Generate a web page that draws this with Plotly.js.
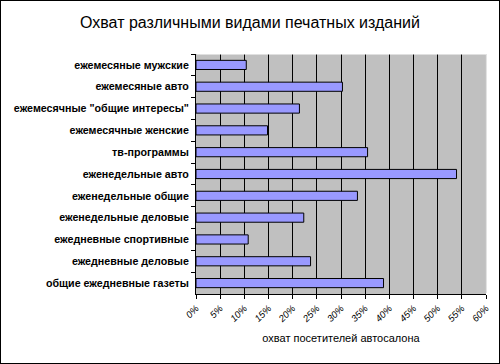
<!DOCTYPE html>
<html><head><meta charset="utf-8">
<script src="https://cdn.plot.ly/plotly-3.0.1.min.js"></script>
<style>
html,body{margin:0;padding:0;background:#fff;}
#wrap{position:relative;width:500px;height:364px;}
#chart{width:500px;height:364px;}
#frame{position:absolute;left:0;top:0;width:500px;height:364px;box-sizing:border-box;border:1px solid #000;pointer-events:none;}
</style>
</head><body>
<div id="wrap"><div id="chart"></div><div id="frame"></div></div>
<script>
const categories = [
  'ежемесяные мужские',
  'ежемесяные авто',
  'ежемесячные "общие интересы"',
  'ежемесячные женские',
  'тв-программы',
  'еженедельные авто',
  'еженедельные общие',
  'еженедельные деловые',
  'ежедневные спортивные',
  'ежедневные деловые',
  'общие ежедневные газеты'
];
const reach = [0.104, 0.303, 0.214, 0.148, 0.355, 0.539, 0.334, 0.223, 0.108, 0.237, 0.388];
const titleText = 'Охват различными видами печатных изданий';
const xTitle = 'охват посетителей автосалона';

const trace = {
  type: 'bar',
  orientation: 'h',
  y: categories,
  x: reach,
  marker: {color: '#9999FF', line: {color: '#000000', width: 1}},
  hoverinfo: 'x+y'
};

const layout = {
  width: 500, height: 364,
  margin: {l: 196, r: 14, t: 54, b: 70},
  paper_bgcolor: '#FFFFFF',
  plot_bgcolor: '#C0C0C0',
  bargap: 0.58,
  showlegend: false,
  font: {family: '"Liberation Sans", Arial, sans-serif', color: '#000'},
  title: {text: titleText, x: 0.5, xref: 'container', xanchor: 'center',
          y: 1 - 22/364, yref: 'container', yanchor: 'middle',
          font: {size: 16, color: '#000'}},
  xaxis: {
    range: [0, 0.6], dtick: 0.05, tick0: 0, tickformat: '.0%',
    tickangle: -45, tickfont: {size: 9.5, style: 'italic'},
    showgrid: true, gridcolor: '#000', gridwidth: 1,
    showline: true, linecolor: '#000', linewidth: 1,
    ticks: 'outside', ticklen: 4, tickcolor: '#000',
    zeroline: false,
    title: {text: xTitle, font: {size: 11}, standoff: 10}
  },
  yaxis: {
    type: 'category', autorange: 'reversed',
    tickson: 'boundaries', ticks: 'outside', ticklen: 4, tickcolor: '#000',
    showline: true, linecolor: '#000', linewidth: 1,
    showgrid: false, zeroline: false,
    ticklabelstandoff: 4,
    tickfont: {size: 10.7, weight: 'bold'}
  },
  shapes: [
    {type: 'line', xref: 'paper', yref: 'paper', x0: 1, x1: 1, y0: 0.004, y1: 1,
     line: {color: '#C8C8C8', width: 1}, layer: 'above'},
    {type: 'line', xref: 'paper', yref: 'paper', x0: 0.003, x1: 1, y0: 1, y1: 1,
     line: {color: '#FFFFFF', width: 1}, layer: 'above'}
  ]
};

Plotly.newPlot('chart', [trace], layout, {displayModeBar: false, staticPlot: true});
</script>
</body></html>
